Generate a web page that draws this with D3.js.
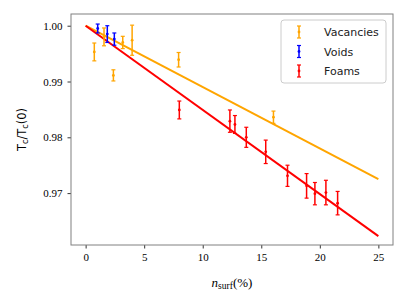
<!DOCTYPE html>
<html lang="en">
<head>
  <meta charset="UTF-8">
  <title>Tc vs n_surf</title>
  <script src="https://cdn.jsdelivr.net/npm/d3@7"></script>
  <style>
    body { margin: 0; background: #fff; }
    svg { display: block; }
  </style>
</head>
<body>
<script>
// Vacancies: [n_surf (%), Tc/Tc(0), error]
const vacX   = [0.74, 1.57, 2.37, 3.17, 3.97, 7.94, 16.04];
const vacY   = [0.9953, 0.9980, 0.9911, 0.9970, 0.9974, 0.9939, 0.9836];
const vacErr = [0.0016, 0.0016, 0.0010, 0.0011, 0.0027, 0.0013, 0.0011];

const voidX   = [1.03, 1.85, 2.45];
const voidY   = [0.9995, 0.9985, 0.9976];
const voidErr = [0.0008, 0.0015, 0.0011];

const foamX   = [8.0, 12.32, 12.75, 13.72, 15.38, 17.24, 18.87, 19.58, 20.52, 21.52];
const foamY   = [0.9849, 0.9829, 0.9823, 0.9800, 0.9774, 0.9731, 0.9713, 0.9699, 0.9701, 0.9682];
const foamErr = [0.0016, 0.0020, 0.0016, 0.0018, 0.0021, 0.0019, 0.0022, 0.0020, 0.0022, 0.0021];

// linear fits through (0, 1)
const fitX = [0, 25];
const vacFit  = [1.0, 0.9725];
const foamFit = [1.0, 0.9623];

const xTicks = [0, 5, 10, 15, 20, 25];
const yTicks = [0.97, 0.98, 0.99, 1.00];

const W = 407, H = 305;
const mL = 71, mR = 393, mT = 14, mB = 245;

const svg = d3.select("body").append("svg")
  .attr("width", W).attr("height", H);

const x = d3.scaleLinear().domain([-1.25, 26.25]).range([mL, mR]);
const y = d3.scaleLinear().domain([0.9607, 1.0021]).range([mB, mT]);

const serif = "'Liberation Serif', 'DejaVu Serif', serif";
const sans = "'DejaVu Sans', sans-serif";

// fit lines
const line = d3.line().x(d => x(d[0])).y(d => y(d[1]));
svg.append("path").datum(fitX.map((v, i) => [v, vacFit[i]]))
  .attr("d", line).attr("fill", "none").attr("stroke", "orange").attr("stroke-width", 2);
svg.append("path").datum(fitX.map((v, i) => [v, foamFit[i]]))
  .attr("d", line).attr("fill", "none").attr("stroke", "red").attr("stroke-width", 2);

function errorbars(xs, ys, es, color) {
  const g = svg.append("g").attr("stroke", color).attr("fill", color);
  const data = xs.map((v, i) => ({ x: v, y: ys[i], e: es[i] }));
  const items = g.selectAll("g").data(data).enter().append("g");
  items.append("line")
    .attr("x1", d => x(d.x)).attr("x2", d => x(d.x))
    .attr("y1", d => y(d.y - d.e)).attr("y2", d => y(d.y + d.e))
    .attr("stroke-width", 1.5);
  [-1, 1].forEach(s => {
    items.append("line")
      .attr("x1", d => x(d.x) - 2).attr("x2", d => x(d.x) + 2)
      .attr("y1", d => y(d.y + s * d.e)).attr("y2", d => y(d.y + s * d.e))
      .attr("stroke-width", 1.2);
  });
  items.append("circle")
    .attr("cx", d => x(d.x)).attr("cy", d => y(d.y)).attr("r", 1.4)
    .attr("stroke", "none");
}
errorbars(vacX, vacY, vacErr, "orange");
errorbars(voidX, voidY, voidErr, "blue");
errorbars(foamX, foamY, foamErr, "red");

// axes
const xAxis = svg.append("g").attr("transform", `translate(0,${mB})`)
  .call(d3.axisBottom(x).tickValues(xTicks).tickSize(3.5).tickPadding(5).tickFormat(d3.format("d")));
const yAxis = svg.append("g").attr("transform", `translate(${mL},0)`)
  .call(d3.axisLeft(y).tickValues(yTicks).tickSize(3.5).tickPadding(5).tickFormat(d3.format(".2f")));
[xAxis, yAxis].forEach(a => {
  a.select(".domain").remove();
  a.selectAll(".tick line").attr("stroke", "#000").attr("stroke-width", 0.8);
  a.selectAll("text").attr("font-family", serif).attr("font-size", 11).attr("fill", "#000");
});

// frame
svg.append("rect").attr("x", mL).attr("y", mT)
  .attr("width", mR - mL).attr("height", mB - mT)
  .attr("fill", "none").attr("stroke", "#808080").attr("stroke-width", 1);

// axis labels
const xl = svg.append("text").attr("x", (mL + mR) / 2).attr("y", 287)
  .attr("text-anchor", "middle").attr("font-family", serif).attr("font-size", 13);
xl.append("tspan").attr("font-style", "italic").text("n");
xl.append("tspan").attr("font-size", 9.5).attr("dy", 2).text("surf");
xl.append("tspan").attr("dy", -2).text("(%)");

const yl = svg.append("text")
  .attr("transform", `translate(26,${(mT + mB) / 2}) rotate(-90)`)
  .attr("text-anchor", "middle").attr("font-family", sans).attr("font-size", 11.5);
yl.append("tspan").text("T");
yl.append("tspan").attr("font-size", 8).attr("dy", 2).text("c");
yl.append("tspan").attr("dy", -2).text("/T");
yl.append("tspan").attr("font-size", 8).attr("dy", 2).text("c");
yl.append("tspan").attr("dy", -2).text("(0)");

// legend
const names = ["Vacancies", "Voids", "Foams"];
const colors = ["orange", "blue", "red"];
const lg = svg.append("g");
lg.append("rect").attr("x", 281).attr("y", 20).attr("width", 105).attr("height", 63)
  .attr("rx", 3).attr("fill", "#fff").attr("fill-opacity", 0.8)
  .attr("stroke", "#ccc").attr("stroke-width", 1);
const li = lg.selectAll("g.item").data(names).enter().append("g")
  .attr("class", "item")
  .attr("transform", (d, i) => `translate(299,${32 + i * 19.5})`);
li.append("line").attr("x1", 0).attr("x2", 0).attr("y1", -6).attr("y2", 6)
  .attr("stroke", (d, i) => colors[i]).attr("stroke-width", 1.5);
[-6, 6].forEach(v => li.append("line").attr("x1", -2).attr("x2", 2).attr("y1", v).attr("y2", v)
  .attr("stroke", (d, i) => colors[i]).attr("stroke-width", 1.2));
li.append("circle").attr("r", 1.4).attr("fill", (d, i) => colors[i]);
li.append("text").attr("x", 25).attr("y", 4).attr("font-family", sans).attr("font-size", 11)
  .attr("fill", "#222").text(d => d);
</script>
</body>
</html>
